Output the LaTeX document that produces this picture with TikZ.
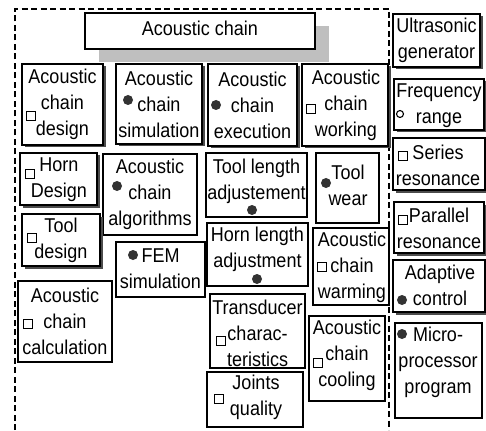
\documentclass[tikz,border=0pt]{standalone}
\usepackage{fontspec}
\setmainfont[FakeStretch=0.9]{Liberation Sans}
\usetikzlibrary{shadows}
\begin{document}
\begin{tikzpicture}[x=1pt,y=-1pt,
  frame/.style={line width=1.3pt,dash pattern=on 6pt off 3.5pt},
  box/.style={draw,line width=1.3pt,fill=white,inner sep=0pt},
  sbox/.style={box,drop shadow={shadow xshift=2.5pt,shadow yshift=-2.5pt,fill=black!70,opacity=1}},
  txt/.style={inner sep=0pt,align=center,font=\fontsize{20}{26}\selectfont},
  sq/.style={draw,line width=1.2pt,fill=white,minimum size=9pt,inner sep=0pt},
  dot/.style={circle,fill=black!80,minimum size=10pt,inner sep=0pt},
  ocirc/.style={circle,draw,line width=1.1pt,minimum size=7pt,inner sep=0pt}]
\useasboundingbox (0,0) rectangle (486,430);
% dashed frame around the chain topics
\draw[frame] (15,430) -- (15,9) -- (389,9) -- (389,430);
% title with its wide light shadow
\fill[black!25] (99,26) rectangle (329,62);
\node[box,minimum width=230pt,minimum height=36pt] (title) at (200,31) {};
\node[txt] (titlet) at (200,28) {Acoustic chain};
% first row
\node[sbox,minimum width=81pt,minimum height=81pt] (design) at (62.5,104.5) {};
\node[sbox,minimum width=86pt,minimum height=80pt] (simul) at (159,104) {};
\node[sbox,minimum width=89pt,minimum height=82pt] (exec) at (252.5,105) {};
\node[sbox,minimum width=86pt,minimum height=82pt] (work) at (345,105) {};
\node[txt] (designt) at (62.5,104.5) {Acoustic\\chain\\design};
\node[txt] (simult) at (159,104) {Acoustic\\chain\\simulation};
\node[txt] (exect) at (252.5,105) {Acoustic\\chain\\execution};
\node[txt] (workt) at (346,105) {Acoustic\\chain\\working};
% left columns
\node[sbox,minimum width=77pt,minimum height=52pt] (horn) at (58.5,179) {};
\node[box,minimum width=94pt,minimum height=81pt] (algo) at (150,194.5) {};
\node[sbox,minimum width=78pt,minimum height=52pt] (tooldes) at (61,240) {};
\node[box,minimum width=89pt,minimum height=55pt] (fem) at (160.5,269.5) {};
\node[box,minimum width=94pt,minimum height=81pt] (calc) at (65,321.5) {};
\node[txt] (hornt) at (59,180) {Horn\\Design};
\node[txt] (algot) at (150,194.5) {Acoustic\\chain\\algorithms};
\node[txt] (tooldest) at (61,240.5) {Tool\\design};
\node[txt] (femt) at (160.5,268.5) {FEM\\simulation};
\node[txt] (calct) at (65,321) {Acoustic\\chain\\calculation};
% middle column
\node[box,minimum width=101pt,minimum height=64pt] (toollen) at (256.5,185) {};
\node[box,minimum width=101pt,minimum height=63pt] (hornlen) at (257.5,254.5) {};
\node[box,minimum width=95pt,minimum height=74pt] (transd) at (257.5,331) {};
\node[box,minimum width=96pt,minimum height=55pt] (joints) at (255,399.5) {};
\node[txt] (toollent) at (256.5,181) {Tool length\\adjustement};
\node[txt] (hornlent) at (257.5,249.5) {Horn length\\adjustment};
\node[txt] (transdt) at (257.5,333) {Transducer\\charac-\\teristics};
\node[txt] (jointst) at (256,397.5) {Joints\\quality};
% right column inside the frame
\node[box,minimum width=63pt,minimum height=70pt] (wear) at (347.5,188) {};
\node[box,minimum width=76pt,minimum height=77pt] (warm) at (351,266.5) {};
\node[box,minimum width=76pt,minimum height=85pt] (cool) at (347,358.5) {};
\node[txt] (weart) at (348,185) {Tool\\wear};
\node[txt] (warmt) at (352,267) {Acoustic\\chain\\warming};
\node[txt] (coolt) at (347,355.5) {Acoustic\\chain\\cooling};
% generator column
\node[sbox,minimum width=87pt,minimum height=53pt] (ultra) at (436.5,40.5) {};
\node[sbox,minimum width=90pt,minimum height=51pt] (freq) at (439,104.5) {};
\node[sbox,minimum width=92pt,minimum height=52pt] (series) at (439,164) {};
\node[sbox,minimum width=90pt,minimum height=51pt] (parallel) at (439,227.5) {};
\node[sbox,minimum width=92pt,minimum height=52pt] (adapt) at (439,286) {};
\node[box,minimum width=87pt,minimum height=95pt] (micro) at (438.5,370.5) {};
\node[txt] (ultrat) at (436.5,40.5) {Ultrasonic\\generator};
\node[txt] (freqt) at (439,106) {Frequency\\range};
\node[txt] (seriest) at (438,165) {Series\\resonance};
\node[txt] (parallelt) at (439,228) {Parallel\\resonance};
\node[txt] (adaptt) at (440,285.5) {Adaptive\\control};
\node[txt] (microt) at (438,362) {Micro-\\processor\\program};
% status markers
\node[sq] (m1) at (31,116) {};
\node[dot] (m2) at (128,100) {};
\node[dot] (m3) at (216,105) {};
\node[sq] (m4) at (311,109) {};
\node[sq] (m5) at (30,174) {};
\node[dot] (m6) at (117,186) {};
\node[dot] (m7) at (252,210) {};
\node[dot] (m8) at (326,183) {};
\node[sq] (m9) at (32,238) {};
\node[dot] (m10) at (133,255) {};
\node[sq] (m11) at (28,324) {};
\node[dot] (m12) at (257,279) {};
\node[sq] (m13) at (221,341) {};
\node[sq] (m14) at (219,399) {};
\node[sq] (m15) at (322,267) {};
\node[sq] (m16) at (318,363) {};
\node[ocirc] (m17) at (400,114) {};
\node[sq] (m18) at (403,156) {};
\node[sq] (m19) at (403,220) {};
\node[dot] (m20) at (402,300) {};
\node[dot] (m21) at (402,334) {};
\end{tikzpicture}
\end{document}
